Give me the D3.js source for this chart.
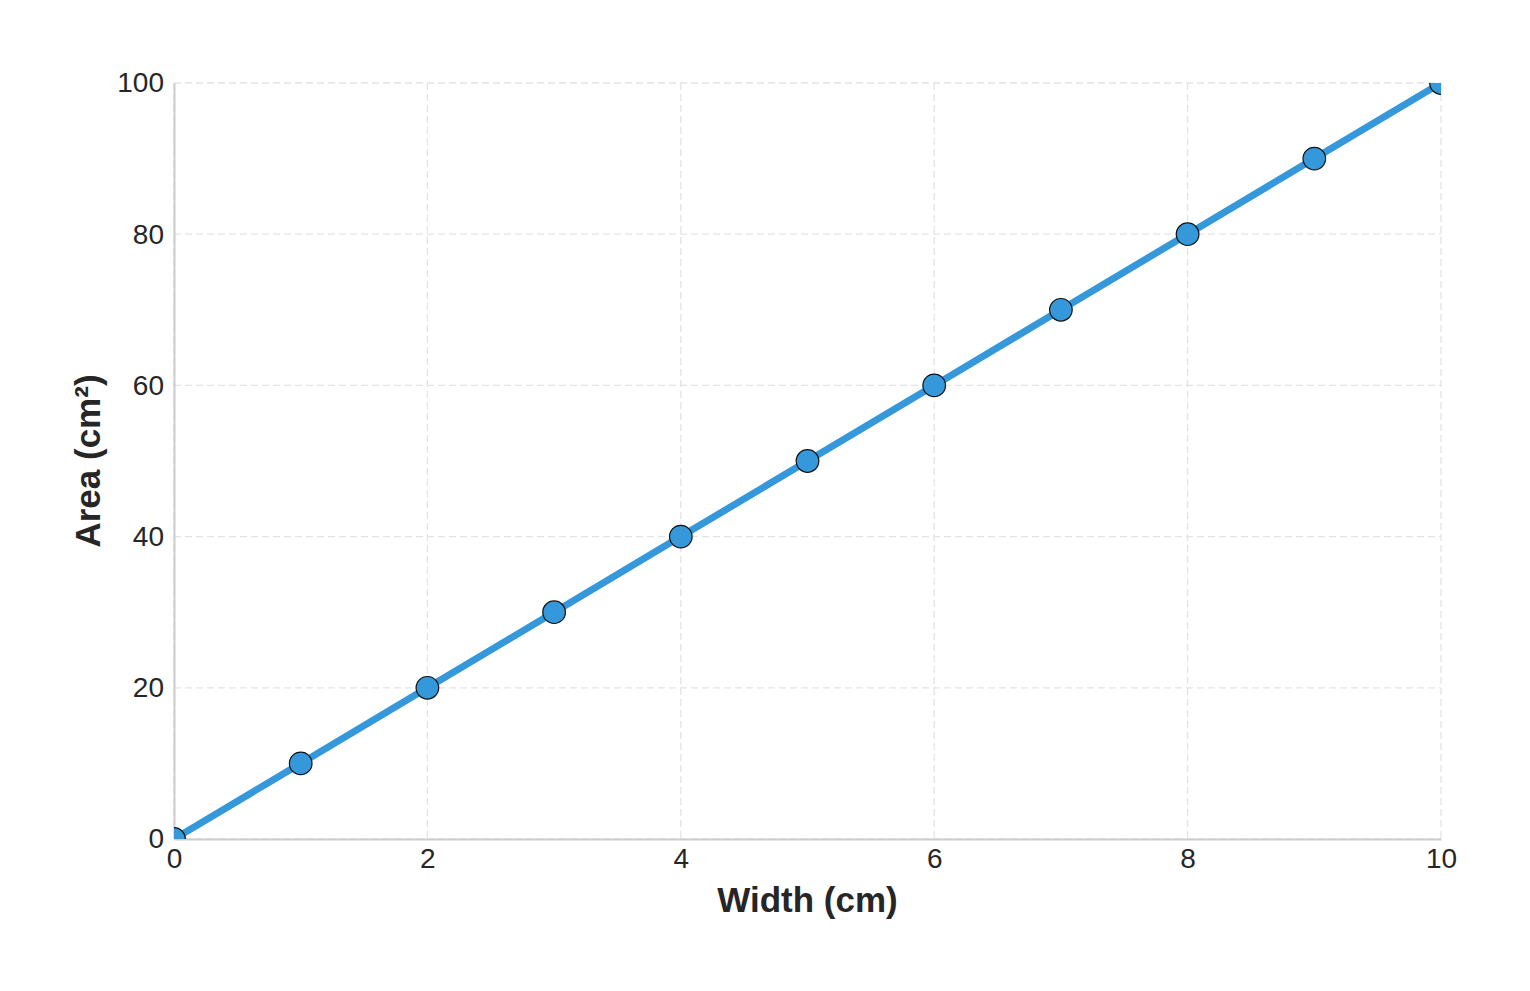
<!DOCTYPE html>
<html><head><meta charset="utf-8">
<script src="https://cdn.jsdelivr.net/npm/d3@7"></script>
<style>body{margin:0;background:#fff}svg{display:block}text{font-family:"Liberation Sans",Arial,sans-serif;fill:#262626}</style>
</head><body>
<svg id="c" width="1530" height="991"></svg>
<script>
const widths = [0,1,2,3,4,5,6,7,8,9,10];
const areas = [0,10,20,30,40,50,60,70,80,90,100];
const xTicks = [0,2,4,6,8,10];
const yTicks = [0,20,40,60,80,100];
const xLabel = "Width (cm)";
const yLabel = "Area (cm²)";

const svg = d3.select("#c");
const m = {l:174, r:1441, t:83, b:839};
const x = d3.scaleLinear().domain([0,10]).range([m.l,m.r]);
const y = d3.scaleLinear().domain([0,100]).range([m.b,m.t]);

svg.append("defs").append("clipPath").attr("id","clip")
  .append("rect").attr("x",m.l).attr("y",m.t).attr("width",m.r-m.l).attr("height",m.b-m.t);

const grid = svg.append("g");
grid.selectAll(".gx").data(xTicks).join("line")
  .attr("x1",d=>x(d)).attr("x2",d=>x(d)).attr("y1",m.t).attr("y2",m.b)
  .attr("stroke","#e3e3e3").attr("stroke-width",1.3).attr("stroke-dasharray","7,4");
grid.selectAll(".gy").data(yTicks).join("line")
  .attr("x1",m.l).attr("x2",m.r).attr("y1",d=>y(d)).attr("y2",d=>y(d))
  .attr("stroke","#e3e3e3").attr("stroke-width",1.3).attr("stroke-dasharray","7,4");

const xAxis = svg.append("g").attr("transform",`translate(0,${m.b})`)
  .call(d3.axisBottom(x).tickValues(xTicks).tickSize(0).tickPadding(9).tickFormat(d3.format("d")));
const yAxis = svg.append("g").attr("transform",`translate(${m.l},0)`)
  .call(d3.axisLeft(y).tickValues(yTicks).tickSize(0).tickPadding(10).tickFormat(d3.format("d")));
[xAxis,yAxis].forEach(a=>{
  a.select(".domain").attr("stroke","#cccccc").attr("stroke-width",2);
  a.selectAll("text").attr("font-size",28).attr("fill","#262626").attr("font-family","Liberation Sans, Arial, sans-serif");
});

const data = widths.map((w,i)=>({w,a:areas[i]}));
const g = svg.append("g").attr("clip-path","url(#clip)");
g.append("path").datum(data)
  .attr("d",d3.line().x(d=>x(d.w)).y(d=>y(d.a)))
  .attr("fill","none").attr("stroke","#3498db").attr("stroke-width",7);
g.selectAll("circle").data(data).join("circle")
  .attr("cx",d=>x(d.w)).attr("cy",d=>y(d.a)).attr("r",11.3)
  .attr("fill","#3498db").attr("stroke","#111").attr("stroke-width",1.2);

svg.append("text").attr("x",(m.l+m.r)/2).attr("y",912).attr("text-anchor","middle")
  .attr("font-size",35).attr("font-weight","bold").text(xLabel);
svg.append("text").attr("transform",`translate(100,${(m.t+m.b)/2}) rotate(-90)`).attr("text-anchor","middle")
  .attr("font-size",35).attr("font-weight","bold").text(yLabel);
</script>
</body></html>
